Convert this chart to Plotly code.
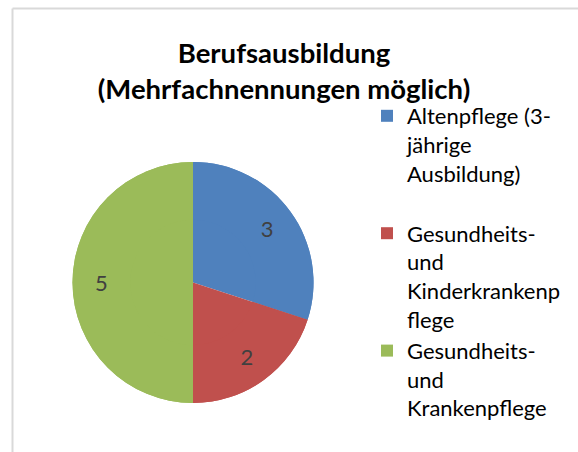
import plotly.graph_objects as go

# data
categories = [
    "Altenpflege (3-jährige Ausbildung)",
    "Gesundheits- und Kinderkrankenpflege",
    "Gesundheits- und Krankenpflege",
]
legend_names = [
    "Altenpflege (3-<br>jährige<br>Ausbildung)<br> ",
    "Gesundheits-<br>und<br>Kinderkrankenp<br>flege",
    "Gesundheits-<br>und<br>Krankenpflege",
]
counts = [3, 2, 5]
slice_colors = ["#4F81BD", "#C0504D", "#9BBB59"]

W, H = 578, 452
FONT = "Lato"
pie_domain = dict(x=[72 / W, 314 / W], y=[1 - 403 / H, 1 - 162 / H])

fig = go.Figure()

# solid pie underneath
fig.add_trace(go.Pie(
    labels=legend_names, values=counts, sort=False,
    direction="clockwise", rotation=0,
    marker=dict(colors=slice_colors, line=dict(width=0)),
    textinfo="none", hoverinfo="skip", showlegend=False,
    domain=pie_domain,
))

# same slices as a ring on top, only to place the value labels further out
fig.add_trace(go.Pie(
    labels=legend_names, values=counts, customdata=categories, sort=False,
    direction="clockwise", rotation=0, hole=0.52,
    marker=dict(colors=slice_colors, line=dict(width=0)),
    textinfo="value", textposition="inside",
    insidetextorientation="horizontal",
    textfont=dict(family=FONT, size=22, color="#404040"),
    hovertemplate="%{customdata}: %{value}<extra></extra>",
    domain=pie_domain,
))

fig.update_layout(
    width=W,
    height=H,
    margin=dict(l=0, r=0, t=0, b=0),
    paper_bgcolor="white",
    font=dict(family=FONT, color="black"),
    title=dict(
        text="<b>Berufsausbildung<br>(Mehrfachnennungen möglich)</b>",
        x=284 / W, xanchor="center", xref="container",
        y=1 - 63 / H, yanchor="top", yref="container",
        font=dict(family=FONT, size=27.5, color="black"),
    ),
    legend=dict(
        x=367 / W, xanchor="left",
        y=1 - 95 / H, yanchor="top",
        valign="top",
        font=dict(family=FONT, size=22, color="black"),
        bgcolor="rgba(0,0,0,0)",
    ),
    showlegend=True,
)

# chart area border (only top and left edges are visible)
border = dict(color="#D9D9D9", width=2)
fig.add_shape(type="line", xref="paper", yref="paper",
              x0=12.5 / W, x1=1, y0=1 - 8.5 / H, y1=1 - 8.5 / H, line=border)
fig.add_shape(type="line", xref="paper", yref="paper",
              x0=12.5 / W, x1=12.5 / W, y0=0, y1=1 - 8.5 / H, line=border)

fig.write_html("out.html", config={"displayModeBar": False},
               post_script="document.body.style.margin = '0';")
